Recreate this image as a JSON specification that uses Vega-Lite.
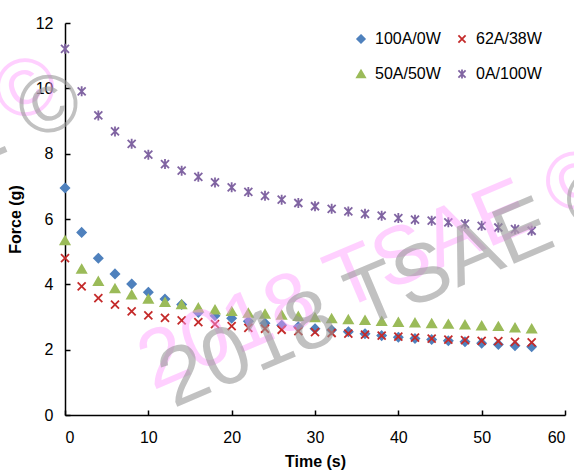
{
  "$schema": "https://vega.github.io/schema/vega-lite/v6.json",
  "width": 500,
  "height": 392,
  "autosize": {"type": "none"},
  "padding": {"left": 65, "top": 23, "right": 9, "bottom": 55},
  "background": "white",
  "config": {
    "view": {"stroke": null},
    "font": "Liberation Sans",
    "axis": {
      "grid": false,
      "domainColor": "#000000",
      "domainWidth": 1.5,
      "tickColor": "#000000",
      "tickWidth": 1.5,
      "tickSize": -5,
      "labelFont": "Liberation Sans",
      "labelFontSize": 16,
      "labelColor": "#000000",
      "titleFont": "Liberation Sans",
      "titleFontSize": 16,
      "titleFontWeight": "bold",
      "titleColor": "#000000"
    },
    "legend": {
      "orient": "none",
      "legendX": 288,
      "legendY": 8,
      "columns": 2,
      "direction": "horizontal",
      "padding": 0,
      "labelFont": "Liberation Sans",
      "labelFontSize": 16,
      "labelColor": "#000000",
      "labelOffset": 6,
      "symbolSize": 80,
      "symbolStrokeWidth": 1.8,
      "rowPadding": 18,
      "columnPadding": 13,
      "title": null
    }
  },
  "layer": [
    {
      "data": {
        "values": [
          {"t": 0, "s": "100A/0W", "f": 6.95}, {"t": 2, "s": "100A/0W", "f": 5.59}, {"t": 4, "s": "100A/0W", "f": 4.8}, {"t": 6, "s": "100A/0W", "f": 4.32}, {"t": 8, "s": "100A/0W", "f": 4.01}, {"t": 10, "s": "100A/0W", "f": 3.76}, {"t": 12, "s": "100A/0W", "f": 3.55}, {"t": 14, "s": "100A/0W", "f": 3.38}, {"t": 16, "s": "100A/0W", "f": 3.14}, {"t": 18, "s": "100A/0W", "f": 3.04}, {"t": 20, "s": "100A/0W", "f": 2.96}, {"t": 22, "s": "100A/0W", "f": 2.87}, {"t": 24, "s": "100A/0W", "f": 2.81}, {"t": 26, "s": "100A/0W", "f": 2.75}, {"t": 28, "s": "100A/0W", "f": 2.7}, {"t": 30, "s": "100A/0W", "f": 2.64}, {"t": 32, "s": "100A/0W", "f": 2.6}, {"t": 34, "s": "100A/0W", "f": 2.55}, {"t": 36, "s": "100A/0W", "f": 2.49}, {"t": 38, "s": "100A/0W", "f": 2.43}, {"t": 40, "s": "100A/0W", "f": 2.38}, {"t": 42, "s": "100A/0W", "f": 2.34}, {"t": 44, "s": "100A/0W", "f": 2.31}, {"t": 46, "s": "100A/0W", "f": 2.27}, {"t": 48, "s": "100A/0W", "f": 2.24}, {"t": 50, "s": "100A/0W", "f": 2.2}, {"t": 52, "s": "100A/0W", "f": 2.16}, {"t": 54, "s": "100A/0W", "f": 2.12}, {"t": 56, "s": "100A/0W", "f": 2.09},
          {"t": 0, "s": "62A/38W", "f": 4.8}, {"t": 2, "s": "62A/38W", "f": 3.94}, {"t": 4, "s": "62A/38W", "f": 3.58}, {"t": 6, "s": "62A/38W", "f": 3.38}, {"t": 8, "s": "62A/38W", "f": 3.17}, {"t": 10, "s": "62A/38W", "f": 3.05}, {"t": 12, "s": "62A/38W", "f": 2.97}, {"t": 14, "s": "62A/38W", "f": 2.9}, {"t": 16, "s": "62A/38W", "f": 2.84}, {"t": 18, "s": "62A/38W", "f": 2.78}, {"t": 20, "s": "62A/38W", "f": 2.72}, {"t": 22, "s": "62A/38W", "f": 2.67}, {"t": 24, "s": "62A/38W", "f": 2.64}, {"t": 26, "s": "62A/38W", "f": 2.61}, {"t": 28, "s": "62A/38W", "f": 2.57}, {"t": 30, "s": "62A/38W", "f": 2.54}, {"t": 32, "s": "62A/38W", "f": 2.51}, {"t": 34, "s": "62A/38W", "f": 2.49}, {"t": 36, "s": "62A/38W", "f": 2.46}, {"t": 38, "s": "62A/38W", "f": 2.43}, {"t": 40, "s": "62A/38W", "f": 2.4}, {"t": 42, "s": "62A/38W", "f": 2.37}, {"t": 44, "s": "62A/38W", "f": 2.34}, {"t": 46, "s": "62A/38W", "f": 2.31}, {"t": 48, "s": "62A/38W", "f": 2.29}, {"t": 50, "s": "62A/38W", "f": 2.27}, {"t": 52, "s": "62A/38W", "f": 2.26}, {"t": 54, "s": "62A/38W", "f": 2.24}, {"t": 56, "s": "62A/38W", "f": 2.22},
          {"t": 0, "s": "50A/50W", "f": 5.34}, {"t": 2, "s": "50A/50W", "f": 4.47}, {"t": 4, "s": "50A/50W", "f": 4.09}, {"t": 6, "s": "50A/50W", "f": 3.87}, {"t": 8, "s": "50A/50W", "f": 3.68}, {"t": 10, "s": "50A/50W", "f": 3.55}, {"t": 12, "s": "50A/50W", "f": 3.45}, {"t": 14, "s": "50A/50W", "f": 3.38}, {"t": 16, "s": "50A/50W", "f": 3.28}, {"t": 18, "s": "50A/50W", "f": 3.22}, {"t": 20, "s": "50A/50W", "f": 3.17}, {"t": 22, "s": "50A/50W", "f": 3.12}, {"t": 24, "s": "50A/50W", "f": 3.09}, {"t": 26, "s": "50A/50W", "f": 3.06}, {"t": 28, "s": "50A/50W", "f": 3.02}, {"t": 30, "s": "50A/50W", "f": 2.98}, {"t": 32, "s": "50A/50W", "f": 2.95}, {"t": 34, "s": "50A/50W", "f": 2.92}, {"t": 36, "s": "50A/50W", "f": 2.9}, {"t": 38, "s": "50A/50W", "f": 2.87}, {"t": 40, "s": "50A/50W", "f": 2.84}, {"t": 42, "s": "50A/50W", "f": 2.82}, {"t": 44, "s": "50A/50W", "f": 2.8}, {"t": 46, "s": "50A/50W", "f": 2.78}, {"t": 48, "s": "50A/50W", "f": 2.76}, {"t": 50, "s": "50A/50W", "f": 2.73}, {"t": 52, "s": "50A/50W", "f": 2.71}, {"t": 54, "s": "50A/50W", "f": 2.67}, {"t": 56, "s": "50A/50W", "f": 2.64},
          {"t": 0, "s": "0A/100W", "f": 11.21}, {"t": 2, "s": "0A/100W", "f": 9.91}, {"t": 4, "s": "0A/100W", "f": 9.17}, {"t": 6, "s": "0A/100W", "f": 8.68}, {"t": 8, "s": "0A/100W", "f": 8.3}, {"t": 10, "s": "0A/100W", "f": 7.97}, {"t": 12, "s": "0A/100W", "f": 7.68}, {"t": 14, "s": "0A/100W", "f": 7.48}, {"t": 16, "s": "0A/100W", "f": 7.29}, {"t": 18, "s": "0A/100W", "f": 7.12}, {"t": 20, "s": "0A/100W", "f": 6.97}, {"t": 22, "s": "0A/100W", "f": 6.83}, {"t": 24, "s": "0A/100W", "f": 6.71}, {"t": 26, "s": "0A/100W", "f": 6.59}, {"t": 28, "s": "0A/100W", "f": 6.49}, {"t": 30, "s": "0A/100W", "f": 6.39}, {"t": 32, "s": "0A/100W", "f": 6.31}, {"t": 34, "s": "0A/100W", "f": 6.23}, {"t": 36, "s": "0A/100W", "f": 6.16}, {"t": 38, "s": "0A/100W", "f": 6.1}, {"t": 40, "s": "0A/100W", "f": 6.03}, {"t": 42, "s": "0A/100W", "f": 5.98}, {"t": 44, "s": "0A/100W", "f": 5.95}, {"t": 46, "s": "0A/100W", "f": 5.9}, {"t": 48, "s": "0A/100W", "f": 5.85}, {"t": 50, "s": "0A/100W", "f": 5.79}, {"t": 52, "s": "0A/100W", "f": 5.74}, {"t": 54, "s": "0A/100W", "f": 5.69}, {"t": 56, "s": "0A/100W", "f": 5.64}
        ]
      },
      "mark": {"type": "point", "size": 100, "strokeWidth": 1.8, "opacity": 1},
      "encoding": {
        "x": {"field": "t", "type": "quantitative", "scale": {"domain": [0, 60], "nice": false}, "axis": {"title": "Time (s)", "values": [0, 10, 20, 30, 40, 50, 60], "labelPadding": 19, "titlePadding": 8}},
        "y": {"field": "f", "type": "quantitative", "scale": {"domain": [0, 12], "nice": false}, "axis": {"title": "Force (g)", "values": [0, 2, 4, 6, 8, 10, 12], "labelPadding": 17, "titlePadding": 12}},
        "fill": {"field": "s", "type": "nominal", "scale": {"domain": ["100A/0W", "62A/38W", "50A/50W", "0A/100W"], "range": ["#4f81bd", "#c42a2a", "#9bbb59", "#8064a2"]}},
        "stroke": {"field": "s", "type": "nominal", "scale": {"domain": ["100A/0W", "62A/38W", "50A/50W", "0A/100W"], "range": ["#4f81bd", "#c42a2a", "#9bbb59", "#8064a2"]}},
        "shape": {"field": "s", "type": "nominal", "scale": {"domain": ["100A/0W", "62A/38W", "50A/50W", "0A/100W"], "range": ["M0,-0.85L0.85,0L0,0.85L-0.85,0Z", "M-0.8,-0.8L0.8,0.8M-0.8,0.8L0.8,-0.8", "M0,-0.8L0.9,0.75L-0.9,0.75Z", "M-0.8,-0.8L0.8,0.8M-0.8,0.8L0.8,-0.8M0,-1L0,1"]}}
      }
    },
    {
      "data": {"values": [{"w": "2018 TSAE ©"}]},
      "mark": {"type": "text", "font": "Liberation Sans", "fontSize": 82, "angle": 337, "align": "center", "baseline": "alphabetic", "fill": "#ff99ff", "opacity": 0.45},
      "encoding": {"x": {"datum": 38.2, "type": "quantitative"}, "y": {"datum": 3.75, "type": "quantitative"}, "text": {"field": "w"}}
    },
    {
      "data": {"values": [{"w": "2018 TSAE ©"}]},
      "mark": {"type": "text", "font": "Liberation Sans", "fontSize": 82, "angle": 337, "align": "center", "baseline": "alphabetic", "fill": "#ff99ff", "opacity": 0.45},
      "encoding": {"x": {"datum": -27.8, "type": "quantitative"}, "y": {"datum": 6.6, "type": "quantitative"}, "text": {"field": "w"}}
    },
    {
      "data": {"values": [{"w": "2018 TSAE ©"}]},
      "mark": {"type": "text", "font": "Liberation Sans", "fontSize": 82, "angle": 337, "align": "center", "baseline": "alphabetic", "fill": "#999999", "opacity": 0.6},
      "encoding": {"x": {"datum": 40.7, "type": "quantitative"}, "y": {"datum": 3.2, "type": "quantitative"}, "text": {"field": "w"}}
    },
    {
      "data": {"values": [{"w": "2018 TSAE ©"}]},
      "mark": {"type": "text", "font": "Liberation Sans", "fontSize": 82, "angle": 337, "align": "center", "baseline": "alphabetic", "fill": "#999999", "opacity": 0.6},
      "encoding": {"x": {"datum": -25.0, "type": "quantitative"}, "y": {"datum": 6.1, "type": "quantitative"}, "text": {"field": "w"}}
    }
  ]
}
